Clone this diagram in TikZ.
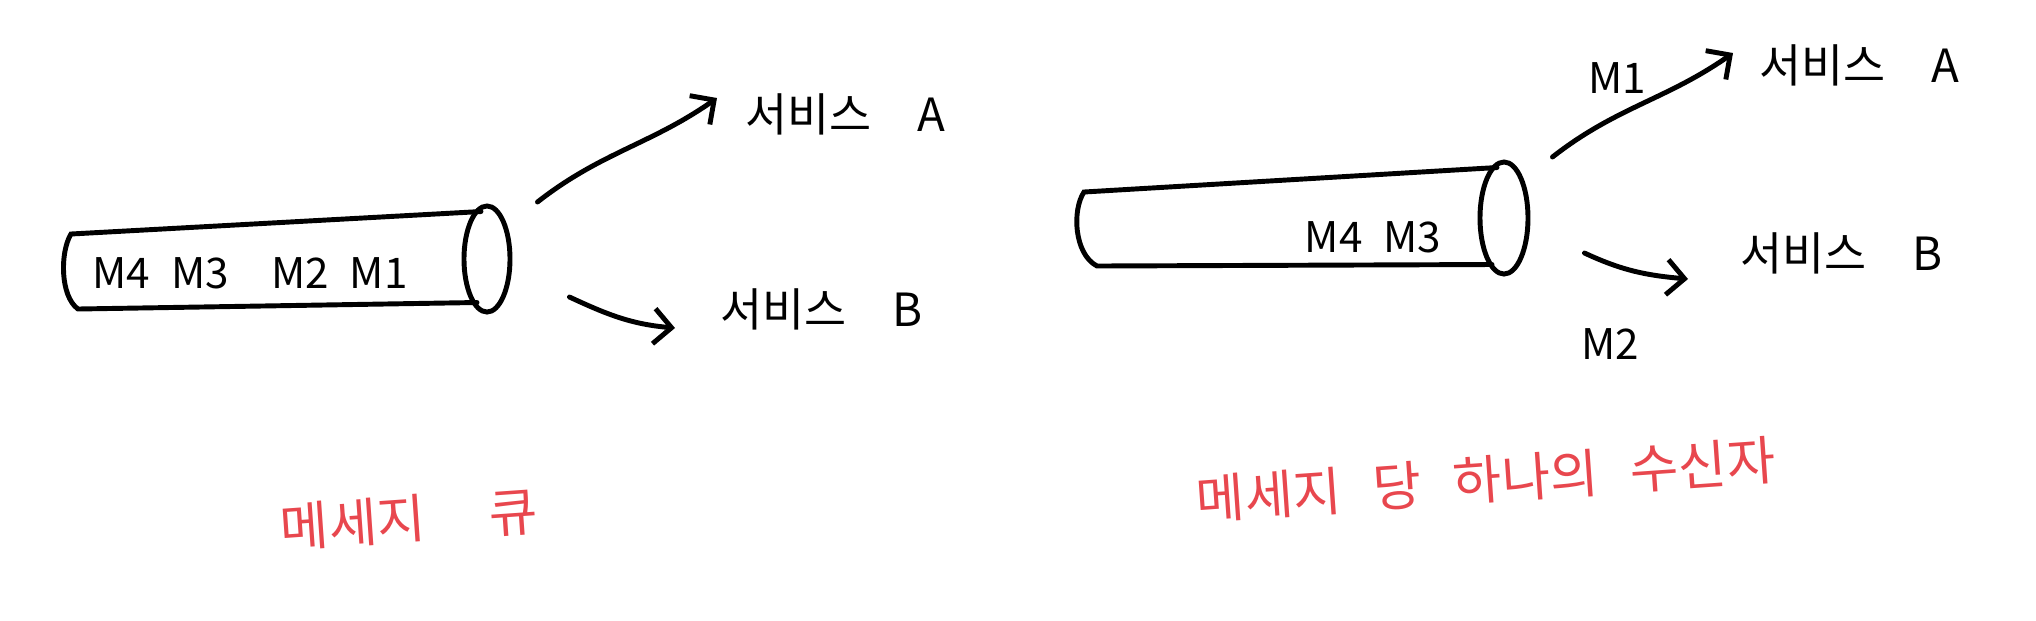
\documentclass[tikz,border=0pt]{standalone}
\usepackage{fontspec}
\newfontfamily\hangul{Noto Sans CJK KR}
\usetikzlibrary{shapes.geometric, arrows.meta}
\definecolor{memored}{HTML}{E8474E}

\begin{document}
\begin{tikzpicture}[x=0.01cm, y=-0.01cm, line width=1.4pt, line cap=round,
    qcap/.style={draw, ellipse, inner sep=0pt},
    svc/.style={anchor=west, font=\hangul\fontsize{13}{15}\selectfont},
    msg/.style={font=\hangul\fontsize{12}{14}\selectfont},
    caption/.style={text=memored, font=\hangul\fontsize{15}{18}\selectfont, rotate=4},
    flow/.style={-{Straight Barb[length=5pt, width=10pt]}}]
    \useasboundingbox (0,0) rectangle (2036,620);
    \node[qcap, minimum width=0.46cm, minimum height=1.06cm] (qL) at (487,259) {};
    \draw ([shift={(-6,8)}]qL.north) -- (71,234) .. controls (60,252) and (60,296) .. (78,309) -- ([shift={(-10,-12)}]qL.south);
    \node[msg] (inL) at (250,273) {M4\enspace M3\quad M2\enspace M1};
    \node[svc] (sA1) at (731,114) {서비스\hspace{1em}A};
    \node[svc] (sB1) at (706,309) {서비스\hspace{1em}B};
    \draw[flow] ([shift={(25,-57)}]qL.east) to[out=38, in=215] ([shift={(-14,-16)}]sA1.west);
    \draw[flow] ([shift={(57,38)}]qL.east) to[out=-25, in=175] ([shift={(-31,19)}]sB1.west);
    \node[caption] (capL) at (409,519) {메세지\hspace{1.2em}큐};
    \node[qcap, minimum width=0.48cm, minimum height=1.12cm] (qR) at (1504,218) {};
    \draw ([shift={(-7,8)}]qR.north) -- (1084,192) .. controls (1072,210) and (1074,254) .. (1097,266) -- ([shift={(-12,-12)}]qR.south);
    \node[msg] (inR) at (1373,237) {M4\enspace M3};
    \node[svc] (sA2) at (1745,65) {서비스\hspace{1em}A};
    \node[svc] (sB2) at (1726,253) {서비스\hspace{1em}B};
    \draw[flow] ([shift={(22,-61)}]qR.east) to[out=38, in=215] ([shift={(-12,-12)}]sA2.west);
    \draw[flow] ([shift={(54,35)}]qR.east) to[out=-25, in=175] ([shift={(-38,26)}]sB2.west);
    \node[msg] (m1) at (1617,78) {M1};
    \node[msg] (m2) at (1610,344) {M2};
    \node[caption] (capR) at (1486,480) {메세지\hspace{0.6em}당\hspace{0.6em}하나의\hspace{0.6em}수신자};
\end{tikzpicture}
\end{document}
